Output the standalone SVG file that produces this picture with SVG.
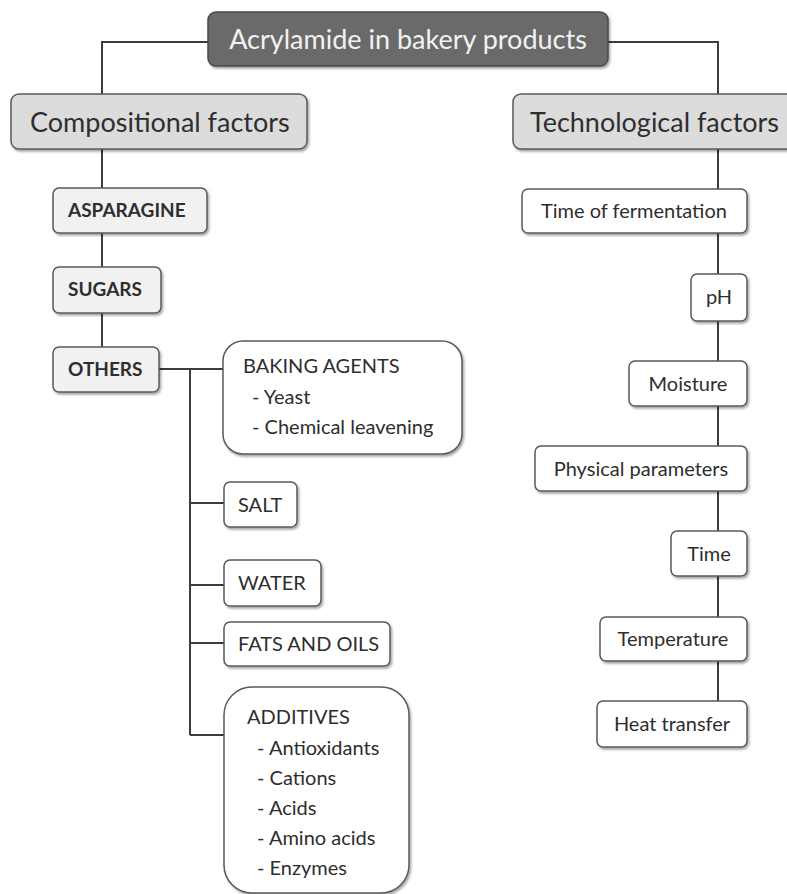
<svg xmlns="http://www.w3.org/2000/svg" width="787" height="894" viewBox="0 0 787 894">
<defs>
<filter id="sh" x="-10%" y="-20%" width="130%" height="150%">
<feDropShadow dx="1.5" dy="2" stdDeviation="1.3" flood-color="#000" flood-opacity="0.35"/>
</filter>
<style>
.ln{fill:none;stroke:#3c3c3c;stroke-width:2}
.root{fill:#6b6b6b;stroke:#4a4a4a;stroke-width:1.5;filter:url(#sh)}
.l1{fill:#dcdcdc;stroke:#5a5a5a;stroke-width:1.5;filter:url(#sh)}
.l2{fill:#f1f1f1;stroke:#5a5a5a;stroke-width:1.5;filter:url(#sh)}
.lf{fill:#ffffff;stroke:#5a5a5a;stroke-width:1.5;filter:url(#sh)}
text{font-family:Lato,"Open Sans","Liberation Sans",sans-serif;fill:#2e2e2e}
.tr{font-size:27px;fill:#f2f2f2;text-anchor:middle}
.t1{font-size:27px}
.tb{font-size:19px;font-weight:bold}
.tn{font-size:20px}
.tc{font-size:20px;text-anchor:middle}
</style>
</defs>
<g id="connectors">
<path class="ln" d="M208,42 H102 V95"/>
<path class="ln" d="M608,42 H718 V94"/>
<path class="ln" d="M102,149 V188 M102,233 V267 M102,313 V347"/>
<path class="ln" d="M159,369 H223 M190,369 V735 M190,503 H224 M190,585 H224 M190,643 H224 M190,735 H224"/>
<path class="ln" d="M718,149 V189 M718,233 V274 M718,321 V361 M718,406 V446 M718,491 V531 M718,576 V617 M718,661 V701"/>
</g>
<g id="root">
<rect class="root" x="208" y="12" width="400" height="54" rx="8"/>
<text class="tr" x="408" y="49">Acrylamide in bakery products</text>
</g>
<g id="compositional">
<rect class="l1" x="11" y="94" width="296" height="55" rx="8"/>
<text class="t1" x="30" y="132">Compositional factors</text>
</g>
<g id="technological">
<rect class="l1" x="513" y="94" width="290" height="55" rx="8"/>
<text class="t1" x="530" y="132">Technological factors</text>
</g>
<g id="asparagine">
<rect class="l2" x="53" y="188" width="154" height="45" rx="6"/>
<text class="tb" x="68" y="217">ASPARAGINE</text>
</g>
<g id="sugars">
<rect class="l2" x="53" y="267" width="108" height="46" rx="6"/>
<text class="tb" x="68" y="296">SUGARS</text>
</g>
<g id="others">
<rect class="l2" x="53" y="347" width="106" height="45" rx="6"/>
<text class="tb" x="68" y="376">OTHERS</text>
</g>
<g id="baking">
<rect class="lf" x="223" y="341" width="239" height="113" rx="20"/>
<text class="tn" x="243" y="373">BAKING AGENTS</text>
<text class="tn" x="252" y="404">- Yeast</text>
<text class="tn" x="252" y="434">- Chemical leavening</text>
</g>
<g id="salt">
<rect class="lf" x="224" y="482" width="73" height="45" rx="6"/>
<text class="tn" x="238" y="512">SALT</text>
</g>
<g id="water">
<rect class="lf" x="224" y="560" width="97" height="46" rx="6"/>
<text class="tn" x="238" y="590">WATER</text>
</g>
<g id="fats">
<rect class="lf" x="224" y="622" width="166" height="44" rx="6"/>
<text class="tn" x="238" y="651">FATS AND OILS</text>
</g>
<g id="additives">
<rect class="lf" x="224" y="687" width="185" height="206" rx="28"/>
<text class="tn" x="247" y="724">ADDITIVES</text>
<text class="tn" x="257" y="755">- Antioxidants</text>
<text class="tn" x="257" y="785">- Cations</text>
<text class="tn" x="257" y="815">- Acids</text>
<text class="tn" x="257" y="845">- Amino acids</text>
<text class="tn" x="257" y="875">- Enzymes</text>
</g>
<g id="fermentation">
<rect class="lf" x="522" y="189" width="225" height="44" rx="6"/>
<text class="tc" x="634" y="218">Time of fermentation</text>
</g>
<g id="ph">
<rect class="lf" x="691" y="274" width="56" height="47" rx="6"/>
<text class="tc" x="719" y="304">pH</text>
</g>
<g id="moisture">
<rect class="lf" x="629" y="361" width="118" height="45" rx="6"/>
<text class="tc" x="688" y="391">Moisture</text>
</g>
<g id="physical">
<rect class="lf" x="535" y="446" width="212" height="45" rx="6"/>
<text class="tc" x="641" y="476">Physical parameters</text>
</g>
<g id="time">
<rect class="lf" x="671" y="531" width="76" height="45" rx="6"/>
<text class="tc" x="709" y="561">Time</text>
</g>
<g id="temperature">
<rect class="lf" x="600" y="617" width="147" height="44" rx="6"/>
<text class="tc" x="673" y="646">Temperature</text>
</g>
<g id="heat">
<rect class="lf" x="597" y="701" width="150" height="46" rx="6"/>
<text class="tc" x="672" y="731">Heat transfer</text>
</g>
</svg>
